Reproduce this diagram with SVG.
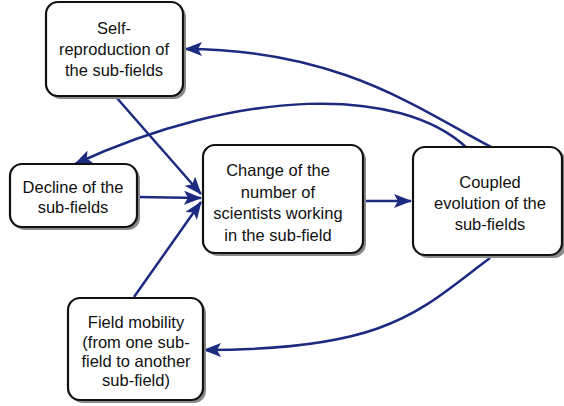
<svg xmlns="http://www.w3.org/2000/svg" width="564" height="406" viewBox="0 0 564 406">
<defs>
<marker id="ah" markerWidth="18" markerHeight="14" refX="17" refY="7" orient="auto" markerUnits="userSpaceOnUse">
<path d="M0,0 L18,7 L0,14 L4,7 Z" fill="#1c2a80"/>
</marker>
</defs>
<style>
.box{fill:#fff;stroke:#111;stroke-width:2.2}
.sh{fill:#8a8a8a}
.t{font-family:"Liberation Sans",Arial,sans-serif;font-size:16.5px;fill:#111;text-anchor:middle}
.c{fill:none;stroke:#1c2a80;stroke-width:2.5;marker-end:url(#ah)}
</style>
<rect width="564" height="406" fill="#fff"/>
<g id="connectors">
<path class="c" d="M493 148 C420 110, 340 49, 185 49"/>
<path class="c" d="M467 148 C400 85, 240 88, 75 164"/>
<path class="c" d="M116 97 L201 194"/>
<path class="c" d="M137 197 L201 198"/>
<path class="c" d="M134 297 L201 202"/>
<path class="c" d="M364 201 L411 201"/>
<path class="c" d="M490 258 C420 310, 390 350, 204 350"/>
</g>
<g id="self-reproduction">
<rect class="sh" x="49" y="5" width="137" height="94" rx="12"/>
<rect class="box" x="46" y="2" width="137" height="94" rx="12"/>
<text class="t" x="114" y="34">Self-</text>
<text class="t" x="114" y="55">reproduction of</text>
<text class="t" x="114" y="76">the sub-fields</text>
</g>
<g id="decline">
<rect class="sh" x="13" y="167" width="127" height="63" rx="12"/>
<rect class="box" x="10" y="164" width="127" height="63" rx="12"/>
<text class="t" x="73" y="193">Decline of the</text>
<text class="t" x="73" y="213">sub-fields</text>
</g>
<g id="change">
<rect class="sh" x="206" y="148" width="160" height="108" rx="12"/>
<rect class="box" x="203" y="145" width="160" height="108" rx="12"/>
<text class="t" x="278" y="176">Change of the</text>
<text class="t" x="278" y="198">number of</text>
<text class="t" x="278" y="219">scientists working</text>
<text class="t" x="278" y="241">in the sub-field</text>
</g>
<g id="coupled">
<rect class="sh" x="416" y="150" width="150" height="108" rx="12"/>
<rect class="box" x="413" y="147" width="149" height="108" rx="12"/>
<text class="t" x="490" y="188">Coupled</text>
<text class="t" x="490" y="209">evolution of the</text>
<text class="t" x="490" y="230">sub-fields</text>
</g>
<g id="field-mobility">
<rect class="sh" x="71" y="301" width="135" height="102" rx="12"/>
<rect class="box" x="68" y="298" width="135" height="102" rx="12"/>
<text class="t" x="136" y="328">Field mobility</text>
<text class="t" x="136" y="348">(from one sub-</text>
<text class="t" x="136" y="367">field to another</text>
<text class="t" x="136" y="386">sub-field)</text>
</g>
</svg>
